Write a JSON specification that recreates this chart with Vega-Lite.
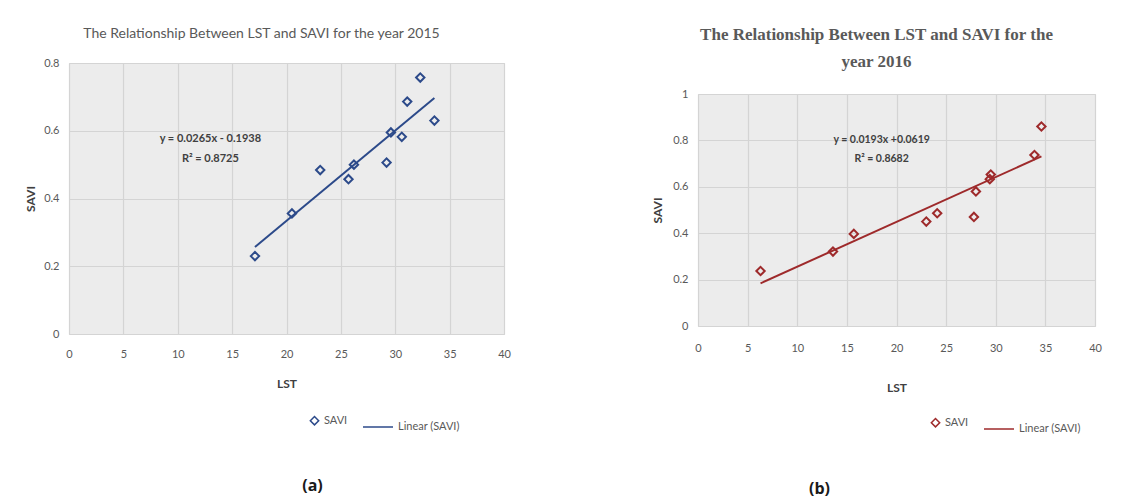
{
  "$schema": "https://vega.github.io/schema/vega-lite/v6.json",
  "padding": {"top": 26, "left": 24, "right": 5, "bottom": 5},
  "background": "white",
  "datasets": {
    "a": [
      {"LST": 17.1, "SAVI": 0.230},
      {"LST": 20.5, "SAVI": 0.356},
      {"LST": 23.1, "SAVI": 0.484},
      {"LST": 25.7, "SAVI": 0.457},
      {"LST": 26.2, "SAVI": 0.500},
      {"LST": 29.2, "SAVI": 0.506},
      {"LST": 29.6, "SAVI": 0.595},
      {"LST": 30.6, "SAVI": 0.582},
      {"LST": 31.1, "SAVI": 0.686},
      {"LST": 32.3, "SAVI": 0.757},
      {"LST": 33.6, "SAVI": 0.630}
    ],
    "b": [
      {"LST": 6.3, "SAVI": 0.237},
      {"LST": 13.6, "SAVI": 0.321},
      {"LST": 15.7, "SAVI": 0.397},
      {"LST": 23.0, "SAVI": 0.450},
      {"LST": 24.1, "SAVI": 0.486},
      {"LST": 27.8, "SAVI": 0.470},
      {"LST": 28.0, "SAVI": 0.580},
      {"LST": 29.4, "SAVI": 0.633},
      {"LST": 29.5, "SAVI": 0.653},
      {"LST": 33.9, "SAVI": 0.737},
      {"LST": 34.6, "SAVI": 0.860}
    ],
    "annA": [
      {"LST": 13.0, "SAVI": 0.576, "label": "y = 0.0265x - 0.1938"},
      {"LST": 13.0, "SAVI": 0.516, "label": "R² = 0.8725"}
    ],
    "annB": [
      {"LST": 18.5, "SAVI": 0.803, "label": "y = 0.0193x +0.0619"},
      {"LST": 18.5, "SAVI": 0.719, "label": "R² = 0.8682"}
    ],
    "empty": []
  },
  "config": {
    "font": "Lato",
    "view": {"fill": "#ececec", "stroke": "#d6d6d6"},
    "axis": {
      "labelFont": "Lato", "labelFontSize": 11, "labelColor": "#595959", "labelOverlap": false, "labelFlush": false,
      "titleFont": "Lato", "titleFontSize": 12, "titleFontWeight": "bold", "titleColor": "#404040",
      "gridColor": "#d4d4d4", "gridWidth": 1.2, "domain": false, "ticks": false, "tickSize": 0
    },
    "legend": {"labelFont": "Lato", "labelFontSize": 11, "labelColor": "#595959", "labelOffset": 4, "columnPadding": 12},
    "title": {"color": "#595959"}
  },
  "spacing": 140,
  "align": "none",
  "hconcat": [
    {
      "title": {"text": "(a)", "orient": "bottom", "anchor": "middle", "font": "Open Sans", "fontSize": 16, "fontWeight": "bold", "color": "#1a1a1a", "offset": 46, "dx": 45},
      "vconcat": [
        {
          "width": 435,
          "height": 271,
          "title": {"text": "The Relationship Between LST and SAVI for the year 2015", "font": "Lato", "fontSize": 14, "fontWeight": "normal", "color": "#595959", "offset": 16, "dx": -25},
          "layer": [
            {
              "data": {"name": "a"},
              "mark": {"type": "point", "filled": false, "strokeWidth": 2, "opacity": 1},
              "encoding": {
                "x": {"field": "LST", "type": "quantitative", "scale": {"domain": [0, 40], "nice": false}, "axis": {"values": [0, 5, 10, 15, 20, 25, 30, 35, 40], "labelPadding": 14, "titlePadding": 19}},
                "y": {"field": "SAVI", "type": "quantitative", "scale": {"domain": [0, 0.8], "nice": false}, "axis": {"values": [0, 0.1, 0.2, 0.3, 0.4, 0.5, 0.6, 0.7, 0.8], "format": ".1~f", "labelPadding": 10, "titlePadding": 6}},
                "color": {"datum": "SAVI", "type": "nominal", "scale": {"domain": ["SAVI", "Linear (SAVI)"], "range": ["#2c4a8a", "#2c4a8a"]}, "legend": {"title": null, "orient": "none", "direction": "horizontal", "legendX": 240, "legendY": 348}},
                "shape": {"datum": "SAVI", "type": "nominal", "scale": {"domain": ["SAVI", "Linear (SAVI)"], "range": ["diamond", "stroke"]}},
                "size": {"datum": "SAVI", "type": "nominal", "scale": {"domain": ["SAVI", "Linear (SAVI)"], "range": [70, 900]}}
              }
            },
            {
              "data": {"name": "a"},
              "transform": [{"regression": "SAVI", "on": "LST"}],
              "mark": {"type": "line", "strokeWidth": 2},
              "encoding": {
                "x": {"field": "LST", "type": "quantitative"},
                "y": {"field": "SAVI", "type": "quantitative"},
                "color": {"datum": "Linear (SAVI)", "type": "nominal"}
              }
            },
            {
              "data": {"name": "annA"},
              "mark": {"type": "text", "font": "Lato", "fontSize": 11, "fontWeight": "bold", "color": "#404040"},
              "encoding": {
                "x": {"field": "LST", "type": "quantitative"},
                "y": {"field": "SAVI", "type": "quantitative"},
                "text": {"field": "label"}
              }
            }
          ]
        }
      ]
    },
    {
      "title": {"text": "(b)", "orient": "bottom", "anchor": "middle", "font": "Open Sans", "fontSize": 16, "fontWeight": "bold", "color": "#1a1a1a", "offset": 47, "dx": -57},
      "vconcat": [
        {
          "title": {"text": ["The Relationship Between LST and SAVI for the", "year 2016"], "anchor": "middle", "font": "Liberation Serif", "fontSize": 17, "fontWeight": "bold", "color": "#595959", "lineHeight": 27, "offset": -8, "dx": 0},
          "spacing": 23,
          "vconcat": [
            {
              "width": 397,
              "height": 1,
              "view": {"fill": null, "stroke": null},
              "data": {"name": "empty"},
              "mark": {"type": "point"},
              "encoding": {}
            },
            {
              "width": 397,
              "height": 232,
              "layer": [
                {
                  "data": {"name": "b"},
                  "mark": {"type": "point", "filled": false, "strokeWidth": 2, "opacity": 1},
                  "encoding": {
                    "x": {"field": "LST", "type": "quantitative", "scale": {"domain": [0, 40], "nice": false}, "axis": {"values": [0, 5, 10, 15, 20, 25, 30, 35, 40], "labelPadding": 16, "titlePadding": 29}},
                    "y": {"field": "SAVI", "type": "quantitative", "scale": {"domain": [0, 1], "nice": false}, "axis": {"values": [0, 0.1, 0.2, 0.3, 0.4, 0.5, 0.6, 0.7, 0.8, 0.9, 1], "format": ".1~f", "labelPadding": 10, "titlePadding": 8}},
                    "color": {"datum": "SAVI", "type": "nominal", "scale": {"domain": ["SAVI", "Linear (SAVI)"], "range": ["#9e2a2b", "#9e2a2b"]}, "legend": {"title": null, "orient": "none", "direction": "horizontal", "legendX": 232, "legendY": 350}},
                    "shape": {"datum": "SAVI", "type": "nominal", "scale": {"domain": ["SAVI", "Linear (SAVI)"], "range": ["diamond", "stroke"]}},
                    "size": {"datum": "SAVI", "type": "nominal", "scale": {"domain": ["SAVI", "Linear (SAVI)"], "range": [70, 900]}}
                  }
                },
                {
                  "data": {"name": "b"},
                  "transform": [{"regression": "SAVI", "on": "LST"}],
                  "mark": {"type": "line", "strokeWidth": 2},
                  "encoding": {
                    "x": {"field": "LST", "type": "quantitative"},
                    "y": {"field": "SAVI", "type": "quantitative"},
                    "color": {"datum": "Linear (SAVI)", "type": "nominal"}
                  }
                },
                {
                  "data": {"name": "annB"},
                  "mark": {"type": "text", "font": "Lato", "fontSize": 10.5, "fontWeight": "bold", "color": "#404040"},
                  "encoding": {
                    "x": {"field": "LST", "type": "quantitative"},
                    "y": {"field": "SAVI", "type": "quantitative"},
                    "text": {"field": "label"}
                  }
                }
              ]
            }
          ]
        }
      ]
    }
  ],
  "resolve": {"scale": {"x": "independent", "y": "independent", "color": "independent", "shape": "independent", "size": "independent"}, "legend": {"color": "independent", "shape": "independent", "size": "independent"}}
}
